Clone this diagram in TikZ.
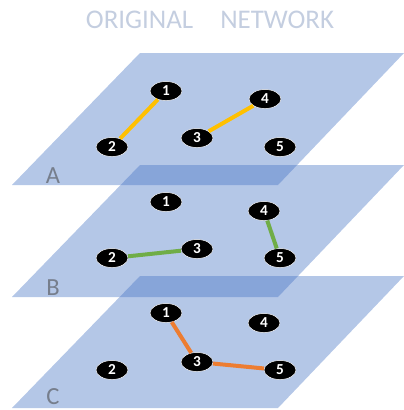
\documentclass[tikz,border=0pt]{standalone}
\usepackage{fontspec}
\setmainfont{Carlito}
\usepackage{xcolor}
\usepackage{tikz}
\usetikzlibrary{shapes.geometric, positioning}

\definecolor{planeblue}{HTML}{4472C4}
\definecolor{titlegray}{RGB}{196,206,224}
\definecolor{labelgray}{RGB}{118,126,140}
\definecolor{linkyellow}{HTML}{FFC000}
\definecolor{linkgreen}{HTML}{70AD47}
\definecolor{linkorange}{HTML}{ED7D31}

\begin{document}
\begin{tikzpicture}[
    x=0.03cm, y=-0.03cm,
    plane/.style={fill=planeblue, fill opacity=0.4},
    vert/.style={ellipse, draw=white, thin, fill=black, text=white, inner sep=0pt,
        minimum width=0.96cm, minimum height=0.57cm,
        font=\bfseries\fontsize{13}{13}\selectfont},
    layer/.style={text=labelgray, font=\fontsize{21}{21}\selectfont, inner sep=0pt},
    link/.style={line width=0.12cm},
    linkA/.style={link, draw=linkyellow},
    linkB/.style={link, draw=linkgreen},
    linkC/.style={link, draw=linkorange}
]
    \useasboundingbox (0,0) rectangle (404,410);

    % planes
    \fill[plane] (140,53) -- (404,53) -- (278,185) -- (12,185) -- cycle;
    \fill[plane] (140,165) -- (404,165) -- (278,297) -- (12,297) -- cycle;
    \fill[plane] (140,276) -- (404,276) -- (278,408) -- (12,408) -- cycle;

    \node[text=titlegray, font=\fontsize{23}{23}\selectfont] (title) at (210,20) {ORIGINAL\quad NETWORK};

    \node[layer] (la) at (53,176) {A};
    \node[layer] (lb) at (53,288) {B};
    \node[layer] (lc) at (53,397) {C};

    % layer A
    \node[vert] (a1) at (166,91) {1};
    \node[vert] (a2) at (112,147) {2};
    \node[vert] (a3) at (197,138) {3};
    \node[vert] (a4) at (265,99) {4};
    \node[vert] (a5) at (280,147) {5};

    % layer B
    \node[vert] (b1) at (166,202) {1};
    \node[vert] (b2) at (112,258) {2};
    \node[vert] (b3) at (197,249) {3};
    \node[vert] (b4) at (264,211) {4};
    \node[vert] (b5) at (280,258) {5};

    % layer C
    \node[vert] (c1) at (166,313) {1};
    \node[vert] (c2) at (112,370) {2};
    \node[vert] (c3) at (197,362) {3};
    \node[vert] (c4) at (264,323) {4};
    \node[vert] (c5) at (280,370) {5};

    \draw[linkA] (a1) -- (a2);
    \draw[linkA] (a3) -- (a4);
    \draw[linkB] (b2) -- (b3);
    \draw[linkB] (b4) -- (b5);
    \draw[linkC] (c1) -- (c3);
    \draw[linkC] (c3) -- (c5);
\end{tikzpicture}
\end{document}
